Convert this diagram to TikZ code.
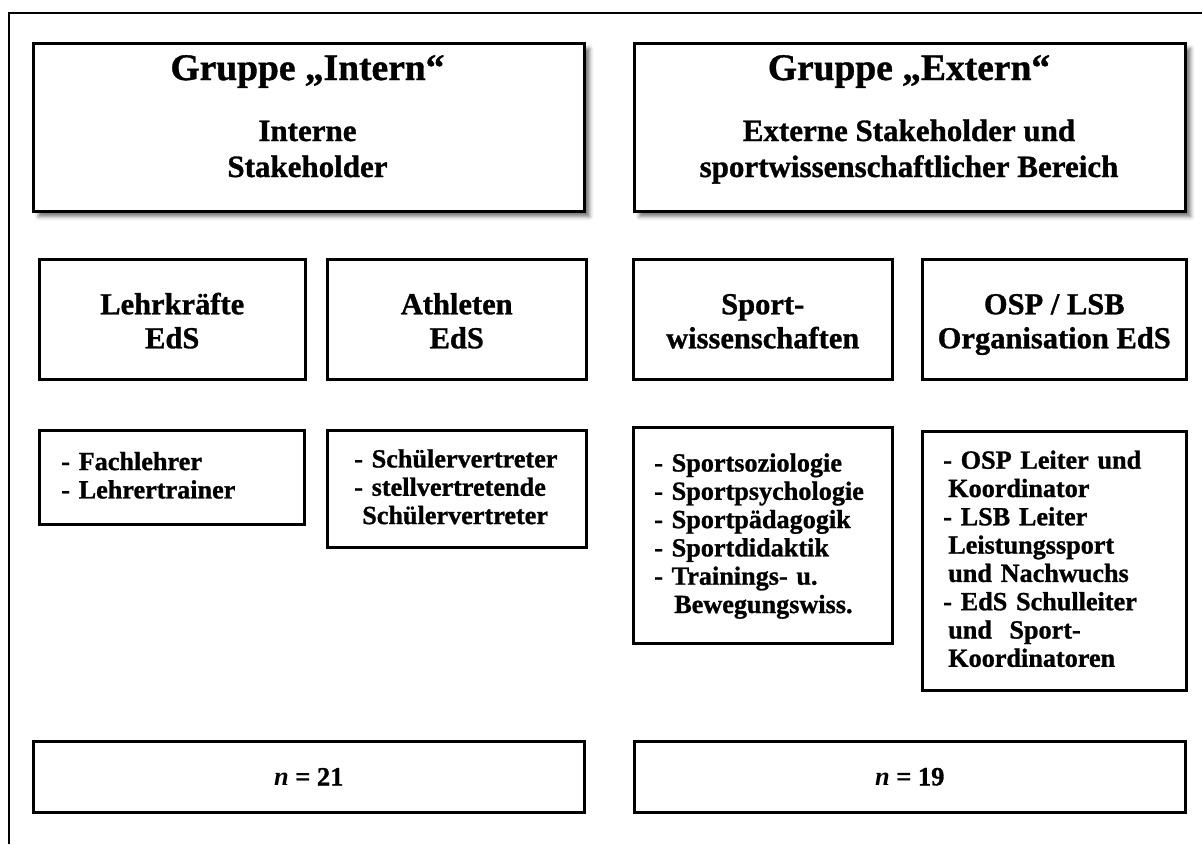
\documentclass[tikz,border=0pt]{standalone}
\usepackage{fontspec}
\setmainfont{Liberation Serif}[BoldFeatures={FakeBold=1}]
\usetikzlibrary{shadows.blur}

% fixed line heights so that boxes with different letters line up
\newcommand{\lnTop}[1]{\rule{0pt}{#1}}
\newcommand{\lnBot}[1]{\rule[-#1]{0pt}{#1}}

\tikzset{
  frameline/.style={line width=2pt},
  headbox/.style={draw, line width=3pt, fill=white, rectangle, anchor=north west,
    inner sep=0pt, minimum width=551pt, minimum height=168pt,
    blur shadow={shadow xshift=5pt, shadow yshift=-5pt, shadow blur radius=4pt, shadow opacity=55}},
  titletext/.style={anchor=base, inner sep=0pt, font=\fontsize{37.5}{42}\selectfont\bfseries},
  subtext/.style={anchor=center, inner sep=0pt, align=center, font=\fontsize{31}{36}\selectfont\bfseries},
  catbox/.style={draw, line width=2.5pt, rectangle, anchor=north west, inner sep=0pt,
    minimum height=120pt, align=center, font=\fontsize{30.5}{34}\selectfont\bfseries},
  listbox/.style={draw, line width=2.5pt, rectangle, anchor=north west, inner ysep=0pt,
    align=left, font=\fontsize{26.2}{28.3}\selectfont\bfseries},
  countbox/.style={draw, line width=2.5pt, rectangle, anchor=north west, inner sep=0pt,
    minimum width=551pt, minimum height=71pt, font=\fontsize{26.4}{30}\selectfont\bfseries},
}

\begin{document}
\begin{tikzpicture}[x=1pt,y=-1pt]
\useasboundingbox (0,0) rectangle (1202,844);

% outer frame (left and top edges)
\draw[frameline] (9,844) -- (9,13) -- (1202,13);

% group headers
\node[headbox] (intern) at (32,42) {};
\node[titletext] (internTitle) at (307.5,80) {Gruppe „Intern“};
\node[subtext] (internSub) at (307.5,149.5) {\lnTop{26pt}Interne\\Stakeholder\lnBot{7pt}};

\node[headbox] (extern) at (633,42) {};
\node[titletext] (externTitle) at (909,80) {Gruppe „Extern“};
\node[subtext] (externSub) at (909,149.5) {\lnTop{26pt}Externe Stakeholder und\\sportwissenschaftlicher Bereich\lnBot{7pt}};

% categories
\node[catbox, minimum width=266pt] (lehr) at (38,258) {\lnTop{31pt}Lehrkräfte\\EdS\lnBot{7pt}};
\node[catbox, minimum width=259pt] (athl) at (326,258) {\lnTop{31pt}Athleten\\EdS\lnBot{7pt}};
\node[catbox, minimum width=259pt] (spw) at (632,258) {\lnTop{31pt}Sport-\\wissenschaften\lnBot{7pt}};
\node[catbox, minimum width=264pt] (osp) at (921,258) {\lnTop{31pt}OSP / LSB\\Organisation EdS\lnBot{7pt}};

% members of each category
\node[listbox, inner xsep=22pt, text width=221pt, minimum height=94pt] (lehrList) at (38,429)
  {\lnTop{20pt}-~Fachlehrer\\-~Lehrertrainer\lnBot{6pt}};
\node[listbox, inner xsep=27pt, text width=205pt, minimum height=117pt] (athlList) at (326,429)
  {\lnTop{20pt}-~Schülervertreter\\-~stellvertretende\\\hspace*{8pt}Schülervertreter\lnBot{6pt}};
\node[listbox, inner xsep=21pt, text width=217pt, minimum height=216pt] (spwList) at (632,426)
  {\lnTop{20pt}-~Sportsoziologie\\-~Sportpsychologie\\-~Sportpädagogik\\-~Sportdidaktik\\-~Trainings-~u.\\\hspace*{20pt}Bewegungswiss.\lnBot{6pt}};
\node[listbox, inner xsep=21pt, text width=222pt, minimum height=259pt] (ospList) at (921,430)
  {\lnTop{20pt}-~OSP Leiter und\\\hspace*{5pt}Koordinator\\-~LSB Leiter\\\hspace*{5pt}Leistungssport\\\hspace*{5pt}und Nachwuchs\\-~EdS Schulleiter\\\hspace*{5pt}und~~Sport-\\\hspace*{5pt}Koordinatoren\lnBot{6pt}};

% sample sizes
\node[countbox] (nIntern) at (32,740) {\textit{n} = 21};
\node[countbox] (nExtern) at (633,740) {\textit{n} = 19};
\end{tikzpicture}
\end{document}
